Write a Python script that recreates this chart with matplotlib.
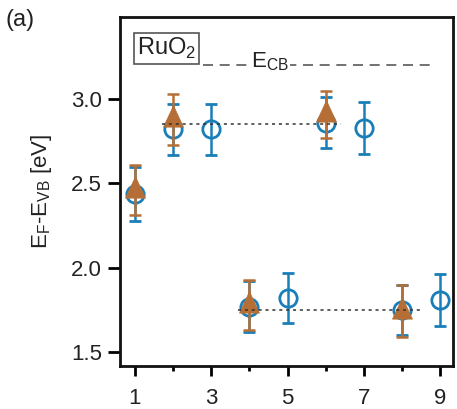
import numpy as np
from matplotlib import pyplot as plt
from matplotlib.path import Path

# Fermi level positions (E_F - E_VB) for each sample
x_circ = [1, 2, 3, 4, 5, 6, 7, 8, 9]
y_circ = [2.44, 2.82, 2.82, 1.77, 1.82, 2.86, 2.83, 1.75, 1.81]
err_circ = [0.16, 0.15, 0.15, 0.15, 0.15, 0.15, 0.155, 0.15, 0.155]

x_tri = [1, 2, 4, 6, 8]
y_tri = [2.46, 2.88, 1.78, 2.91, 1.745]
err_tri = [0.15, 0.15, 0.15, 0.14, 0.155]

e_cb = 3.2
upper_level = 2.85
lower_level = 1.75

blue = "#1a7fb8"
brown = "#b56f36"

# up-triangle whose base sits a little below the data point
tri_marker = Path([(0, 1), (-0.72, -0.55), (0.72, -0.55), (0, 1)],
                  [Path.MOVETO, Path.LINETO, Path.LINETO, Path.CLOSEPOLY])

plt.rcParams["font.family"] = ["Liberation Sans", "DejaVu Sans"]
plt.rcParams["text.color"] = "#222222"
plt.rcParams["axes.labelcolor"] = "#222222"

fig = plt.figure(figsize=(4.57, 4.09), dpi=100)
ax = fig.add_axes([0.2626, 0.105, 0.7287, 0.853])

ax.errorbar(x_circ, y_circ, yerr=err_circ, fmt="o", ms=12.5, mfc="none",
            mec=blue, mew=2, ecolor=blue, elinewidth=1.8, capsize=4.5,
            capthick=1.8, zorder=3)
ax.errorbar(x_tri, y_tri, yerr=err_tri, fmt="none", ecolor=brown,
            elinewidth=1.8, capsize=4.5, capthick=1.8, zorder=4)
ax.plot(x_tri, y_tri, ls="none", marker=tri_marker, ms=20, mfc=brown,
        mec=brown, mew=0.5, zorder=4)

# reference levels
ax.plot([1.7, 6.4], [upper_level, upper_level], color="#333333", lw=1.1,
        ls=(0, (2, 2.5)), zorder=5)
ax.plot([3.7, 8.5], [lower_level, lower_level], color="#333333", lw=1.1,
        ls=(0, (2, 2.5)), zorder=5)
ax.plot([2.78, 8.9], [e_cb, e_cb], color="#5a5a5a", lw=1.2,
        ls=(0, (6, 4)), zorder=2)
ax.text(4.05, 3.22, r"E$_\mathregular{CB}$", fontsize=16, va="center",
        ha="left", zorder=3,
        bbox=dict(facecolor="white", edgecolor="none", pad=1))

ax.text(0.052, 0.91, r"RuO$_\mathregular{2}$", transform=ax.transAxes,
        fontsize=17, va="center", ha="left",
        bbox=dict(boxstyle="square,pad=0.12", facecolor="white",
                  edgecolor="#555555", lw=1.2))

ax.set_xlim(0.607, 9.34)
ax.set_ylim(1.417, 3.486)
ax.set_xticks([1, 3, 5, 7, 9])
ax.set_xticks([2, 4, 6, 8], minor=True)
ax.set_yticks([1.5, 2.0, 2.5, 3.0])
ax.set_yticklabels(["1.5", "2.0", "2.5", "3.0"])

for s in ax.spines.values():
    s.set_linewidth(2)
    s.set_color("#111111")
ax.tick_params(axis="y", which="major", direction="out", length=9, width=2,
               labelsize=16, pad=4, labelcolor="#222222")
ax.tick_params(axis="x", which="major", direction="out", length=7, width=2,
               labelsize=16, pad=9, labelcolor="#222222")
ax.tick_params(axis="x", which="minor", direction="out", length=3.5,
               width=2)

ax.set_ylabel(r"E$_\mathregular{F}$-E$_\mathregular{VB}$ [eV]", fontsize=16,
              labelpad=12)
fig.text(0.012, 0.95, "(a)", fontsize=17, va="center", ha="left")

fig.savefig("out.png", dpi=100)
